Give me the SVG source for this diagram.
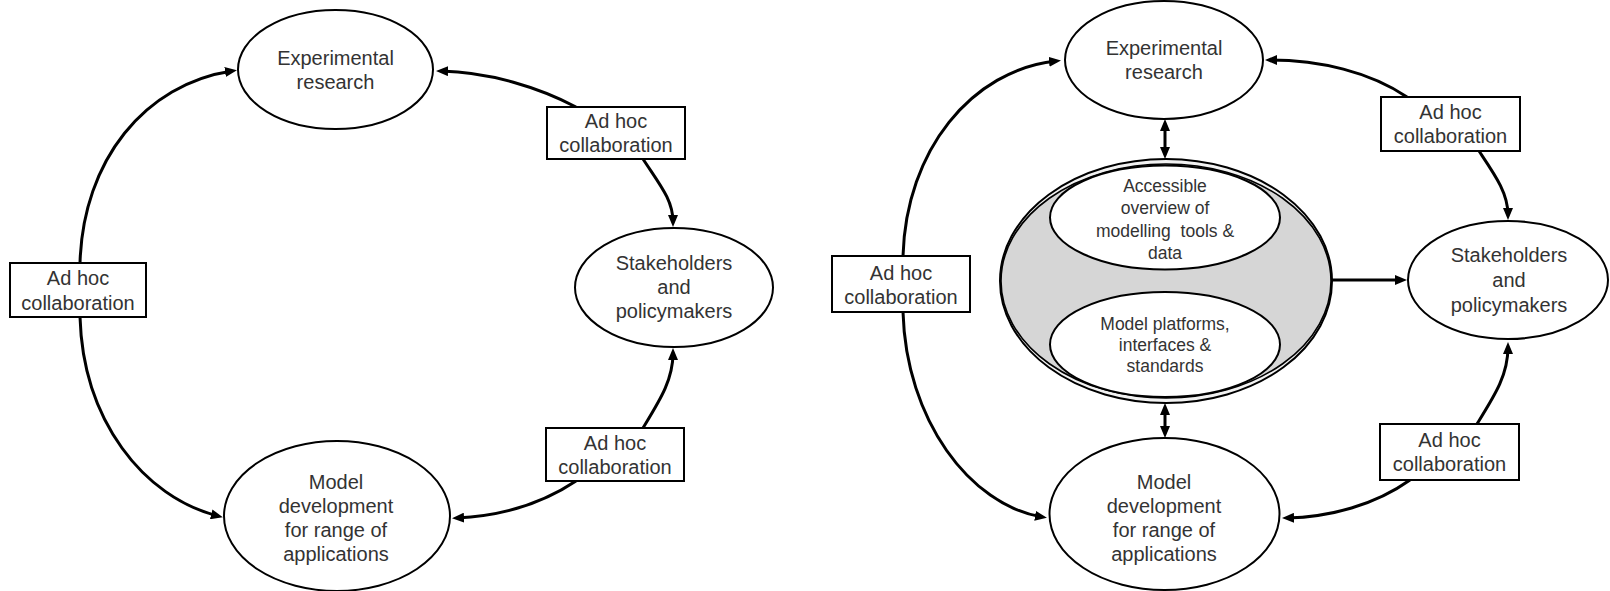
<svg xmlns="http://www.w3.org/2000/svg" width="1610" height="591" viewBox="0 0 1610 591">
<defs>
<style>
.node{fill:#fff;stroke:#000;stroke-width:2}
.box{fill:#fff;stroke:#000;stroke-width:2}
.t{font-family:"Liberation Sans",Arial,sans-serif;font-size:20px;fill:#333;text-anchor:middle}
.ts{font-family:"Liberation Sans",Arial,sans-serif;font-size:17.5px;fill:#333;text-anchor:middle}
.c{fill:none;stroke:#000;stroke-width:3;marker-end:url(#ah)}
.d{fill:none;stroke:#000;stroke-width:3;marker-end:url(#ah);marker-start:url(#ah)}
</style>
<marker id="ah" markerWidth="12" markerHeight="10" refX="7" refY="5" orient="auto-start-reverse" markerUnits="userSpaceOnUse">
<path d="M0,0 L12,5 L0,10 z" fill="#000"/>
</marker>
</defs>

<g id="connectors">
<!-- left diagram -->
<path class="c" d="M80 263 C83 160 145 84 232 71"/>
<path class="c" d="M80 317 C83 420 143 497 218 516"/>
<path class="c" d="M576 107 C540 88 490 72 441 71"/>
<path class="c" d="M643 159 C660 185 673 200 673 222"/>
<path class="c" d="M643 428 C660 400 673 380 673 353"/>
<path class="c" d="M576 481 C540 505 500 516 457 518"/>
<!-- right diagram -->
<path class="c" d="M903 256 C906 150 972 70 1056 61"/>
<path class="c" d="M903 312 C906 420 970 505 1042 517"/>
<path class="c" d="M1407 97 C1370 72 1320 60 1270 60"/>
<path class="c" d="M1479 151 C1495 175 1508 193 1508 215"/>
<path class="c" d="M1477 424 C1495 395 1508 375 1508 347"/>
<path class="c" d="M1410 480 C1375 505 1330 517 1287 518"/>
<path class="d" d="M1165 124 L1165 154"/>
<path class="c" d="M1165 269 L1165 285"/>
<path class="c" d="M1332 280 L1402 280"/>
<path class="d" d="M1165 408 L1165 433"/>
</g>

<!-- Left diagram -->
<g id="exp-left">
<ellipse class="node" cx="335.5" cy="69.5" rx="97.5" ry="59.5"/>
<text class="t" x="335.5" y="65">Experimental</text>
<text class="t" x="335.5" y="89">research</text>
</g>
<g id="stake-left">
<ellipse class="node" cx="674" cy="287.5" rx="99" ry="59.5"/>
<text class="t" x="674" y="270">Stakeholders</text>
<text class="t" x="674" y="294">and</text>
<text class="t" x="674" y="318">policymakers</text>
</g>
<g id="model-left">
<ellipse class="node" cx="337" cy="516" rx="113" ry="75"/>
<text class="t" x="336" y="489">Model</text>
<text class="t" x="336" y="513">development</text>
<text class="t" x="336" y="537">for range of</text>
<text class="t" x="336" y="561">applications</text>
</g>
<g id="adhoc-left-top">
<rect class="box" x="547" y="107" width="138" height="52"/>
<text class="t" x="616" y="128">Ad hoc</text>
<text class="t" x="616" y="152">collaboration</text>
</g>
<g id="adhoc-left-left">
<rect class="box" x="10" y="263" width="136" height="54"/>
<text class="t" x="78" y="285">Ad hoc</text>
<text class="t" x="78" y="310">collaboration</text>
</g>
<g id="adhoc-left-bottom">
<rect class="box" x="546" y="428" width="138" height="53"/>
<text class="t" x="615" y="450">Ad hoc</text>
<text class="t" x="615" y="474">collaboration</text>
</g>

<!-- Right diagram -->
<g id="exp-right">
<ellipse class="node" cx="1164" cy="60" rx="99" ry="59"/>
<text class="t" x="1164" y="55">Experimental</text>
<text class="t" x="1164" y="79">research</text>
</g>
<g id="hub">
<ellipse cx="1166" cy="281" rx="166" ry="122" fill="#f2f2f2" stroke="#000" stroke-width="2"/>
<ellipse cx="1166" cy="281" rx="165" ry="117" fill="#d6d6d6" stroke="#000" stroke-width="1.6"/>
</g>
<g id="overview">
<ellipse class="node" cx="1165" cy="217.5" rx="115" ry="52"/>
<text class="ts" x="1165" y="192">Accessible</text>
<text class="ts" x="1165" y="214">overview of</text>
<text class="ts" x="1165" y="237" xml:space="preserve">modelling  tools &amp;</text>
<text class="ts" x="1165" y="259">data</text>
</g>
<g id="platforms">
<ellipse class="node" cx="1165" cy="344.5" rx="115" ry="52.5"/>
<text class="ts" x="1165" y="330">Model platforms,</text>
<text class="ts" x="1165" y="351">interfaces &amp;</text>
<text class="ts" x="1165" y="372">standards</text>
</g>
<g id="stake-right">
<ellipse class="node" cx="1508" cy="280" rx="100" ry="59"/>
<text class="t" x="1509" y="262">Stakeholders</text>
<text class="t" x="1509" y="287">and</text>
<text class="t" x="1509" y="312">policymakers</text>
</g>
<g id="model-right">
<ellipse class="node" cx="1164.5" cy="514" rx="115" ry="76"/>
<text class="t" x="1164" y="489">Model</text>
<text class="t" x="1164" y="513">development</text>
<text class="t" x="1164" y="537">for range of</text>
<text class="t" x="1164" y="561">applications</text>
</g>
<g id="adhoc-right-top">
<rect class="box" x="1381" y="97" width="139" height="54"/>
<text class="t" x="1450.5" y="119">Ad hoc</text>
<text class="t" x="1450.5" y="143">collaboration</text>
</g>
<g id="adhoc-right-left">
<rect class="box" x="832" y="256" width="138" height="56"/>
<text class="t" x="901" y="280">Ad hoc</text>
<text class="t" x="901" y="304">collaboration</text>
</g>
<g id="adhoc-right-bottom">
<rect class="box" x="1380" y="424" width="139" height="56"/>
<text class="t" x="1449.5" y="447">Ad hoc</text>
<text class="t" x="1449.5" y="471">collaboration</text>
</g>
</svg>
